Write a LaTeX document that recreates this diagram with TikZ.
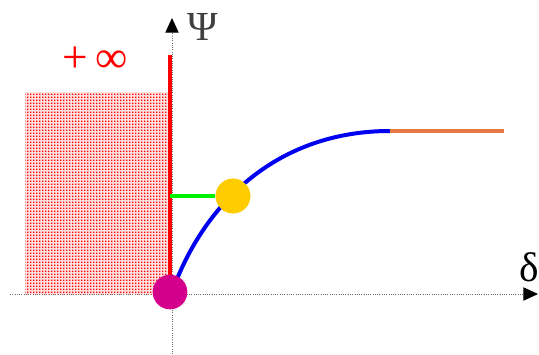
\documentclass[tikz,border=0pt]{standalone}
\usepackage{fontspec}
\setmainfont{Liberation Serif}
\usepackage{tikz}
\usetikzlibrary{arrows.meta,patterns}
\definecolor{curveblue}{RGB}{0,0,240}
\definecolor{plateau}{RGB}{230,120,70}
\definecolor{yellowdot}{RGB}{255,204,0}
\definecolor{magentadot}{RGB}{212,0,140}
\definecolor{greenline}{RGB}{0,240,0}
\definecolor{axisgray}{RGB}{110,110,110}
\pgfdeclarepatternformonly{reddots}{\pgfpointorigin}{\pgfpoint{2pt}{2pt}}{\pgfpoint{2pt}{2pt}}{%
    \pgfpathrectangle{\pgfpointorigin}{\pgfpoint{1.2pt}{1.2pt}}\pgfusepath{fill}}

\begin{document}
\begin{tikzpicture}[x=0.75pt, y=-0.75pt,
    axis/.style={axisgray, densely dotted, line width=0.7pt,
        -{Triangle[length=11pt, width=10pt, black, sep=0pt]}},
    blob/.style={circle, inner sep=0pt, minimum size=26pt},
    label/.style={font=\fontsize{31}{34}\selectfont}]
    \useasboundingbox (0,0) rectangle (539,354);

    % forbidden region
    \fill[red!12] (25,92) rectangle (168,294);
    \fill[pattern=reddots, pattern color=red] (25,92) rectangle (168,294);

    \draw[axis] (10,294) -- (538,294);
    \draw[axis] (172,354) -- (172,18);
    \node[label, text=black!75] (psi) at (203,27) {Ψ};
    \node[label] (delta) at (529,267) {δ};
    \node[label, text=red, font=\fontsize{34}{38}\selectfont] (inf) at (95,60) {+\,∞};

    \draw[red, line width=3pt] (170,294) -- (170,55);

    \coordinate (wall) at (170,196);
    \coordinate (top) at (390,131);
    \coordinate (far) at (504,131);
    \node[blob, fill=yellowdot] (eq) at (233,196) {};
    \draw[greenline, line width=2.6pt] (wall) -- (eq);
    \draw[curveblue, line width=3pt] (172,292) .. controls (205,200) and (280,131) .. (top);
    \draw[plateau, line width=3pt] (top) -- (far);
    \node[blob, fill=yellowdot] at (eq) {};
    \node[blob, fill=magentadot] (zero) at (170,292) {};
\end{tikzpicture}
\end{document}
